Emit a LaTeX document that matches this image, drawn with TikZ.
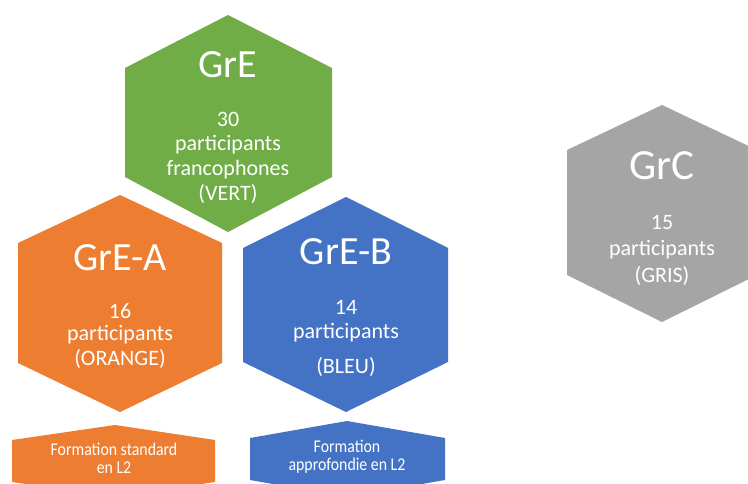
\documentclass[tikz,border=0pt]{standalone}
\usepackage{fontspec}
\setmainfont{Carlito}
\newfontfamily\condfont[FakeStretch=0.88]{Carlito}
\definecolor{cgreen}{HTML}{70AD47}
\definecolor{corange}{HTML}{ED7D31}
\definecolor{cblue}{HTML}{4472C4}
\definecolor{cgray}{HTML}{A5A5A5}
\tikzset{
  txt/.style={text=white, inner sep=0pt, anchor=base},
  ttl/.style={txt, font=\fontsize{40}{44}\selectfont},
  body/.style={txt, font=\fontsize{22}{26}\selectfont},
  small/.style={txt, font=\condfont\fontsize{18}{20}\selectfont}
}
\begin{document}
\begin{tikzpicture}[x=1pt,y=-1pt]
\useasboundingbox (0,0) rectangle (748,484);
\clip (0,0) rectangle (748,484);
\fill[white] (0,0) rectangle (748,484);
% GrE (green)
\fill[cgreen] (125,68) -- (228,15) -- (332,68) -- (332,177) -- (228,232) -- (125,177) -- cycle;
\node[ttl] (gT) at (228,78) {GrE};
\node[body] (g1) at (228,127) {30};
\node[body] (g2) at (228,151) {participants};
\node[body] (g3) at (228,176) {francophones};
\node[body] (g4) at (228,201) {(VERT)};
% GrE-A (orange)
\fill[corange] (18,243) -- (120,195) -- (222,243) -- (222,363) -- (120,412) -- (18,363) -- cycle;
\node[ttl] (aT) at (120,270) {GrE-A};
\node[body] (a1) at (120,318) {16};
\node[body] (a2) at (120,341) {participants};
\node[body] (a3) at (120,365) {(ORANGE)};
% GrE-B (blue)
\fill[cblue] (243,248) -- (346,197) -- (448,248) -- (448,362) -- (346,412) -- (243,362) -- cycle;
\node[ttl] (bT) at (346,265) {GrE-B};
\node[body] (b1) at (346,315) {14};
\node[body] (b2) at (346,338) {participants};
\node[body] (b3) at (346,373) {(BLEU)};
% GrC (gray)
\fill[cgray] (567,150) -- (662,105) -- (757,150) -- (757,275) -- (662,322) -- (567,275) -- cycle;
\node[ttl, font=\fontsize{43}{46}\selectfont] (cT) at (662,180) {GrC};
\node[body] (c1) at (662,230) {15};
\node[body] (c2) at (662,255) {participants};
\node[body] (c3) at (662,283) {(GRIS)};
% small orange
\fill[corange] (12,440) -- (115,425) -- (215,440) -- (215,482) -- (115,497) -- (12,482) -- cycle;
\node[small] (sa1) at (114,455) {Formation standard};
\node[small] (sa2) at (114,473) {en L2};
% small blue
\fill[cblue] (250,438) -- (347,421) -- (445,438) -- (445,480) -- (347,497) -- (250,480) -- cycle;
\node[small] (sb1) at (347,452) {Formation};
\node[small] (sb2) at (347,470) {approfondie en L2};
\end{tikzpicture}
\end{document}
